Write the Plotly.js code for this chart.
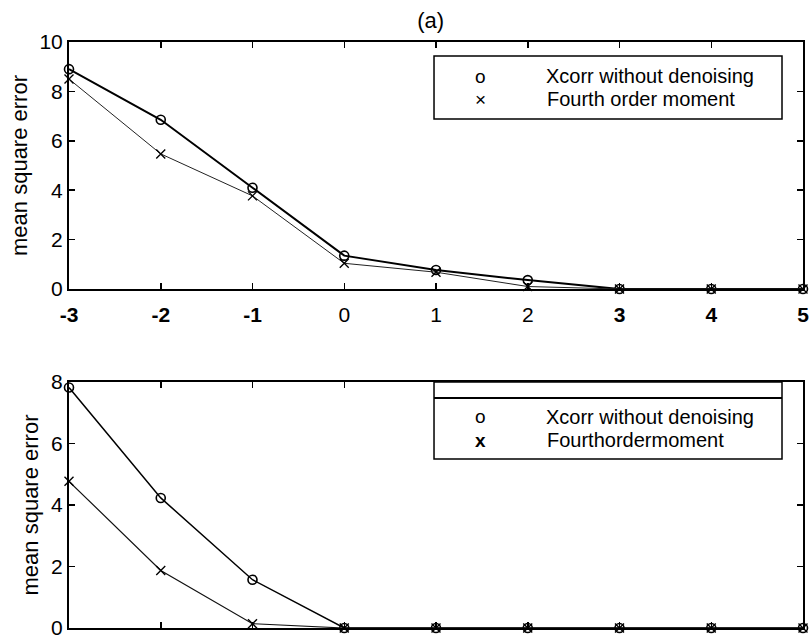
<!DOCTYPE html>
<html>
<head>
<meta charset="utf-8">
<script src="https://cdn.plot.ly/plotly-3.0.1.min.js"></script>
<style>
  html, body { margin: 0; padding: 0; background: #fff; }
  #chart { width: 811px; height: 639px; }
</style>
</head>
<body>
<div id="chart"></div>
<script>
// SNR steps shared by both panels
const snr = [-3, -2, -1, 0, 1, 2, 3, 4, 5];
const snrTickText = ['<b>-3</b>', '<b>-2</b>', '<b>-1</b>', '0', '1', '2', '<b>3</b>', '<b>4</b>', '<b>5</b>'];

// Panel (a), upper plot
const xcorrUpper  = [8.9, 6.85, 4.1, 1.35, 0.77, 0.36, 0, 0, 0];
const fourthUpper = [8.5, 5.47, 3.77, 1.04, 0.68, 0.1, 0, 0, 0];

// Panel (a), lower plot
const xcorrLower  = [7.82, 4.23, 1.57, 0, 0, 0, 0, 0, 0];
const fourthLower = [4.77, 1.87, 0.14, 0, 0, 0, 0, 0, 0];

const upperTicks = [0, 2, 4, 6, 8, 10];
const lowerTicks = [0, 2, 4, 6, 8];

const seriesNames = ['Xcorr without denoising', 'Fourth order moment'];
const lowerNames  = ['Xcorr without denoising', 'Fourthordermoment'];

const FONT = 'Liberation Sans, Arial, Helvetica, sans-serif';

const traces = [
  { x: snr, y: xcorrUpper, xaxis: 'x', yaxis: 'y', name: seriesNames[0],
    mode: 'lines+markers', cliponaxis: false,
    line: { color: '#000', width: 2 },
    marker: { symbol: 'circle-open', size: 9, color: '#000', line: { width: 1.6, color: '#000' } } },
  { x: snr, y: fourthUpper, xaxis: 'x', yaxis: 'y', name: seriesNames[1],
    mode: 'lines+markers', cliponaxis: false,
    line: { color: '#222', width: 1 },
    marker: { symbol: 'x-thin-open', size: 9, color: '#000', line: { width: 1.4, color: '#000' } } },
  { x: snr, y: xcorrLower, xaxis: 'x2', yaxis: 'y2', name: lowerNames[0],
    mode: 'lines+markers', cliponaxis: false,
    line: { color: '#000', width: 1.5 },
    marker: { symbol: 'circle-open', size: 9, color: '#000', line: { width: 1.6, color: '#000' } } },
  { x: snr, y: fourthLower, xaxis: 'x2', yaxis: 'y2', name: lowerNames[1],
    mode: 'lines+markers', cliponaxis: false,
    line: { color: '#111', width: 1.2 },
    marker: { symbol: 'x-thin-open', size: 9, color: '#000', line: { width: 1.4, color: '#000' } } }
];

const axisCommon = {
  showline: true, linecolor: '#000', linewidth: 2, mirror: 'ticks',
  ticks: 'inside', ticklen: 6, tickwidth: 1.5, tickcolor: '#000',
  showgrid: false, zeroline: false, fixedrange: true,
  ticklabeloverflow: 'allow'
};

// Hand-drawn legend boxes (MATLAB style) built from the series names
const shapes = [
  { type: 'rect', xref: 'x domain', yref: 'y domain', x0: 0.4973, x1: 0.9714, y0: 0.688, y1: 0.943,
    line: { color: '#000', width: 1.5 }, fillcolor: '#fff', layer: 'above' },
  { type: 'rect', xref: 'x2 domain', yref: 'y2 domain', x0: 0.4973, x1: 0.9714, y0: 0.687, y1: 1.0,
    line: { color: '#000', width: 1.5 }, fillcolor: '#fff', layer: 'above' },
  { type: 'line', xref: 'x2 domain', yref: 'y2 domain', x0: 0.4973, x1: 0.9714, y0: 0.935, y1: 0.935,
    line: { color: '#000', width: 2 }, layer: 'above' }
];

function legendText(xref, yref, x, y, text, size, weight) {
  return { xref: xref, yref: yref, x: x, y: y, text: text, showarrow: false,
    xanchor: 'left', yanchor: 'middle', borderpad: 0,
    font: { family: FONT, size: size, color: '#000', weight: weight || 'normal' } };
}
function legendSymbol(xref, yref, x, y, text, size, weight) {
  return { xref: xref, yref: yref, x: x, y: y, text: text, showarrow: false,
    xanchor: 'center', yanchor: 'middle', borderpad: 0,
    font: { family: FONT, size: size, color: '#000', weight: weight || 'normal' } };
}

const annotations = [
  legendSymbol('x domain', 'y domain', 0.560, 0.862, 'o', 19),
  legendSymbol('x domain', 'y domain', 0.560, 0.768, '×', 19),
  legendText('x domain', 'y domain', 0.648, 0.862, seriesNames[0], 20),
  legendText('x domain', 'y domain', 0.650, 0.768, seriesNames[1], 20),
  legendSymbol('x2 domain', 'y2 domain', 0.560, 0.858, 'o', 19),
  legendSymbol('x2 domain', 'y2 domain', 0.560, 0.764, 'x', 19, 'bold'),
  legendText('x2 domain', 'y2 domain', 0.648, 0.858, lowerNames[0], 20),
  legendText('x2 domain', 'y2 domain', 0.650, 0.764, lowerNames[1], 20)
];

const layout = {
  width: 811, height: 639,
  margin: { l: 69, r: 8, t: 42, b: 11 },
  paper_bgcolor: '#fff', plot_bgcolor: '#fff',
  showlegend: false,
  font: { family: FONT, size: 20, color: '#000' },
  title: { text: '(a)', x: 0.531, xanchor: 'center', y: 0.968, yanchor: 'middle',
           font: { family: FONT, size: 22, color: '#000' } },
  xaxis: Object.assign({}, axisCommon, {
    domain: [0, 1], anchor: 'y', range: [-3, 5],
    tickvals: snr, ticktext: snrTickText, ticklabelstandoff: 6,
    tickfont: { family: FONT, size: 21, color: '#000' }
  }),
  yaxis: Object.assign({}, axisCommon, {
    domain: [0.5785, 1], anchor: 'x', range: [0, 10],
    tickvals: upperTicks, tickfont: { family: FONT, size: 21, color: '#000' },
    title: { text: 'mean square error', standoff: 6, font: { family: FONT, size: 22, color: '#000' } }
  }),
  xaxis2: Object.assign({}, axisCommon, {
    domain: [0, 1], anchor: 'y2', range: [-3, 5],
    tickvals: snr, showticklabels: false
  }),
  yaxis2: Object.assign({}, axisCommon, {
    domain: [0, 0.4198], anchor: 'x2', range: [0, 8],
    tickvals: lowerTicks, tickfont: { family: FONT, size: 21, color: '#000' },
    title: { text: 'mean square error', standoff: 6, font: { family: FONT, size: 22, color: '#000' } }
  }),
  shapes: shapes,
  annotations: annotations
};

Plotly.newPlot('chart', traces, layout, { displayModeBar: false, staticPlot: true });
</script>
</body>
</html>
